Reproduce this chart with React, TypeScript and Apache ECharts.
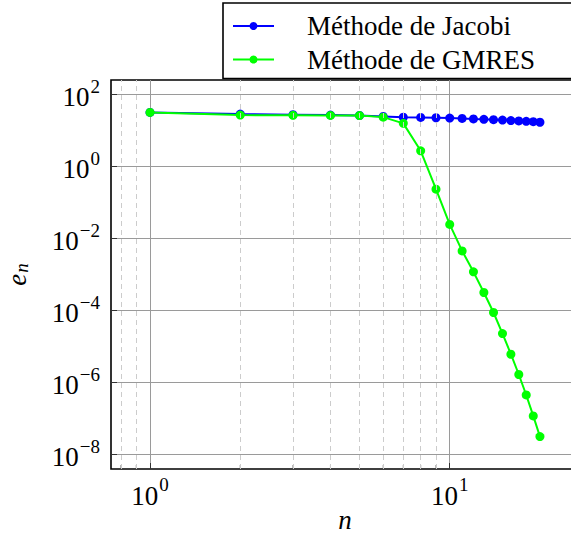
import { useEffect, useRef } from 'react';
import * as echarts from 'echarts';

const FONT = 'Liberation Serif';

const seriesNames = ['Méthode de Jacobi', 'Méthode de GMRES'];
const iterations = [1, 2, 3, 4, 5, 6, 7, 8, 9, 10, 11, 12, 13, 14, 15, 16, 17, 18, 19, 20];
const jacobiErrors = [30.4, 27.3, 26.3, 25.7, 25.0, 23.6, 22.5, 22.0, 21.6, 21.2, 20.7, 20.1, 19.6, 19.1, 18.6, 18.1, 17.7, 17.2, 16.8, 16.2];
const gmresErrors = [30.4, 25.6, 25.3, 25.1, 24.8, 22.5, 15.1, 2.61, 0.225, 0.0236, 4.35e-3, 1.14e-3, 3.04e-4, 8.47e-5, 2.21e-5, 5.88e-6, 1.61e-6, 4.35e-7, 1.14e-7, 3.04e-8];
const minorXTicks = [0.8, 0.9, 2, 3, 4, 5, 6, 7, 8, 9];
const xRange = [0.741, 27.0];
const yRange = [3.83e-9, 241.5];
const xTitle = 'n';
const yTitle = ['e', 'n'];

const labelRich = {
  b: { fontFamily: FONT, fontSize: 27, color: '#000', lineHeight: 34, verticalAlign: 'bottom' },
  s: { fontFamily: FONT, fontSize: 19, color: '#000', lineHeight: 19, verticalAlign: 'top', padding: [0, 0, 0, 1] },
};

function powLabel(v: number): string {
  const l = Math.log10(v);
  const e = Math.round(l);
  if (Math.abs(l - e) > 1e-6) return '';
  const es = e < 0 ? '\u2212' + String(-e) : String(e);
  return '{b|10}{s|' + es + '}';
}

export default function App() {
  const ref = useRef<HTMLDivElement>(null);
  useEffect(() => {
    document.body.style.margin = '0';
    if (!ref.current) return;
    const chart = echarts.init(ref.current, undefined, { renderer: 'svg' });
    const pair = (xs: number[], ys: number[]) => xs.map((x, i) => [x, ys[i]]);
    chart.setOption({
      animation: false,
      backgroundColor: '#fff',
      textStyle: { fontFamily: FONT },
      grid: {
        left: 111, top: 80, width: 468, height: 389,
        containLabel: false, outerBoundsMode: 'none',
        show: true, borderColor: '#000', borderWidth: 1.6, backgroundColor: 'transparent',
      },
      legend: {
        data: seriesNames,
        orient: 'vertical',
        left: 223, top: 3,
        padding: [9, 80, 5, 9],
        itemWidth: 41, itemHeight: 10, itemGap: 5.5,
        borderColor: '#000', borderWidth: 1.6, borderRadius: 0,
        backgroundColor: '#fff',
        selectedMode: false,
        textStyle: { fontFamily: FONT, fontSize: 27, color: '#000', lineHeight: 28, padding: [0, 0, 0, 28] },
      },
      xAxis: {
        type: 'log', logBase: 10, min: xRange[0], max: xRange[1],
        name: xTitle, nameLocation: 'middle', nameGap: 38, nameMoveOverlap: false,
        nameTextStyle: { fontFamily: FONT, fontSize: 27, fontStyle: 'italic', color: '#000', lineHeight: 26 },
        axisLine: { show: false },
        axisTick: { show: true, inside: true, length: 6, lineStyle: { color: '#333', width: 1 } },
        axisLabel: { formatter: powLabel, rich: labelRich, margin: 6, showMinLabel: false, showMaxLabel: false },
        splitLine: { show: true, showMinLine: false, showMaxLine: false, lineStyle: { color: '#9a9a9a', width: 1 } },
        minorTick: { show: false },
      },
      yAxis: {
        type: 'log', logBase: 100, min: yRange[0], max: yRange[1],
        name: '{i|' + yTitle[0] + '}{sub|' + yTitle[1] + '}', nameLocation: 'middle', nameRotate: 90, nameGap: 80, nameMoveOverlap: false,
        nameTextStyle: {
          rich: {
            i: { fontFamily: FONT, fontSize: 27, fontStyle: 'italic', color: '#000', lineHeight: 28, verticalAlign: 'top' },
            sub: { fontFamily: FONT, fontSize: 19, fontStyle: 'italic', color: '#000', lineHeight: 19, padding: [0, 0, 0, 1], verticalAlign: 'bottom' },
          },
        },
        axisLine: { show: false },
        axisTick: { show: true, inside: true, length: 6, lineStyle: { color: '#333', width: 1 } },
        axisLabel: { formatter: powLabel, rich: labelRich, margin: 11, showMinLabel: false, showMaxLabel: false },
        splitLine: { show: true, showMinLine: false, showMaxLine: false, lineStyle: { color: '#9a9a9a', width: 1 } },
        minorTick: { show: false },
      },
      series: [
        {
          name: 'minorGrid', type: 'line', data: [], silent: true, z: 1,
          markLine: {
            silent: true, symbol: 'none', label: { show: false },
            lineStyle: { type: [5, 4], color: '#cccccc', width: 1 },
            data: minorXTicks.map((v) => ({ xAxis: v })),
          },
        },
        {
          name: 'minorTicksBottom', type: 'scatter', silent: true, clip: false, z: 1,
          data: minorXTicks.map((v) => [v, yRange[0]]),
          symbol: 'rect', symbolSize: [1, 4], symbolOffset: [0, -2],
          itemStyle: { color: '#555' },
        },
        {
          name: seriesNames[0], type: 'line', data: pair(iterations, jacobiErrors),
          symbol: 'circle', symbolSize: 9, showAllSymbol: true, z: 3,
          lineStyle: { color: '#0000ff', width: 2 }, itemStyle: { color: '#0000ff' },
        },
        {
          name: seriesNames[1], type: 'line', data: pair(iterations, gmresErrors),
          symbol: 'circle', symbolSize: 9, showAllSymbol: true, z: 4,
          lineStyle: { color: '#00ff00', width: 2 }, itemStyle: { color: '#00ff00' },
        },
      ],
    });
    return () => chart.dispose();
  }, []);
  return <div ref={ref} style={{ width: 571, height: 536, position: 'fixed', left: 0, top: 0 }} />;
}
